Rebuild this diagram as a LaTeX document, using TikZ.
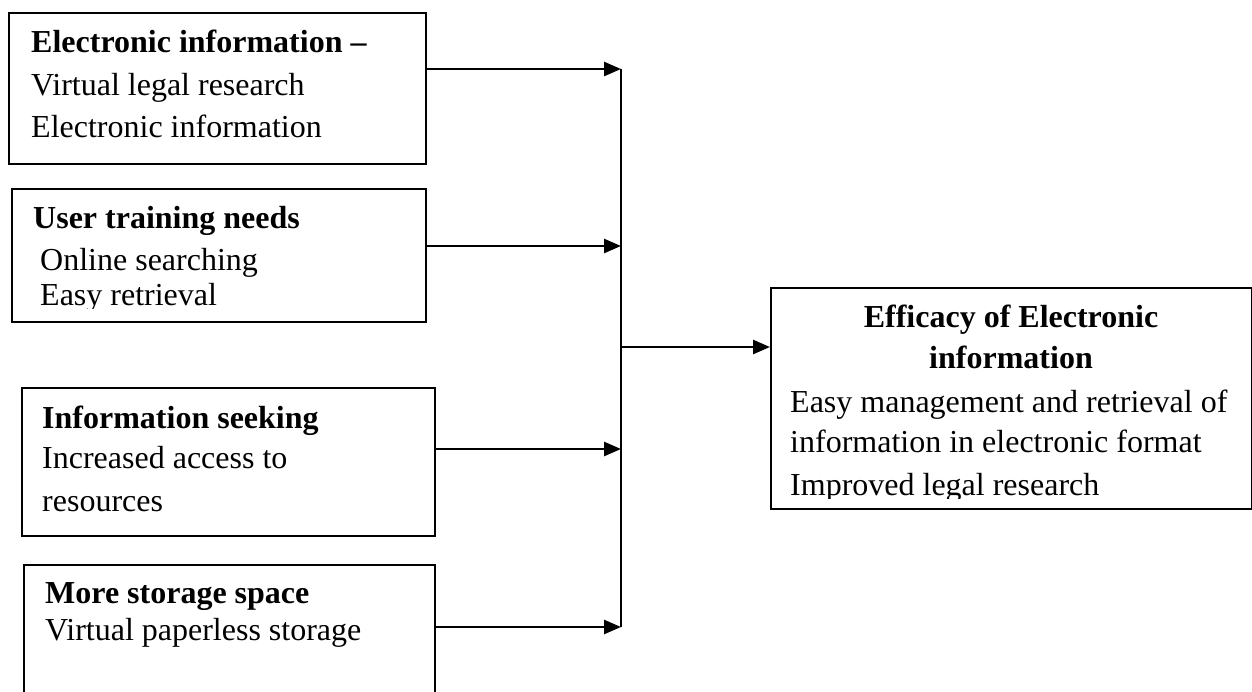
\documentclass[tikz,border=0pt]{standalone}
\usepackage{fontspec}
\setmainfont{Liberation Serif}
\usetikzlibrary{arrows.meta}
\tikzset{
  box/.style={draw, line width=2pt, anchor=north west, inner sep=0pt},
  txt/.style={anchor=base west, inner sep=0pt, font=\fontsize{32}{38}\selectfont},
  hd/.style={txt, font=\fontsize{32}{38}\selectfont\bfseries},
  ctr/.style={anchor=base, inner sep=0pt, font=\fontsize{32}{38}\selectfont\bfseries},
  bus/.style={line width=2.4pt},
  arr/.style={line width=2.6pt, -{Triangle[length=17pt,width=14pt]}}
}
\begin{document}
\begin{tikzpicture}[x=1pt,y=-1pt]
\useasboundingbox (0,0) rectangle (1252,691);
% boxes
\node[box, minimum width=417pt, minimum height=151pt] (b1) at (8,12) {};
\node[box, minimum width=414pt, minimum height=133pt] (b2) at (11,188) {};
\node[box, minimum width=413pt, minimum height=148pt] (b3) at (21,387) {};
\node[box, minimum width=411pt, minimum height=140pt] (b4) at (23,564) {};
\node[box, minimum width=481pt, minimum height=221pt] (rb) at (770,287) {};
% texts
\node[hd] (t11) at (31,52) {Electronic information –};
\node[txt] (t12) at (31,95) {Virtual legal research};
\node[txt] (t13) at (31,137) {Electronic information};
\node[hd] (t21) at (33,228) {User training needs};
\node[txt] (t22) at (40,270) {Online searching};
\begin{scope}
\clip (20,280) rectangle (400,308);
\node[txt] (t23) at (40,305) {Easy retrieval};
\end{scope}
\node[hd] (t31) at (42,428) {Information seeking};
\node[txt] (t32) at (42,468) {Increased access to};
\node[txt] (t33) at (42,511) {resources};
\node[hd] (t41) at (45,603) {More storage space};
\node[txt] (t42) at (45,640) {Virtual paperless storage};
\node[ctr] (r1) at (1011,327) {Efficacy of Electronic};
\node[ctr] (r2) at (1011,368) {information};
\node[txt] (r3) at (790,412) {Easy management and retrieval of};
\node[txt] (r4) at (790,452) {information in electronic format};
\begin{scope}
\clip (780,470) rectangle (1240,498);
\node[txt] (r5) at (790,495) {Improved legal research};
\end{scope}
% connectors
\coordinate (j1) at (621,69);
\coordinate (j2) at (621,246);
\coordinate (j3) at (621,449);
\coordinate (j4) at (621,627);
\coordinate (j5) at (621,347);
\draw[bus] (j1) -- (j4);
\draw[arr] (b1.east |- j1) -- (j1);
\draw[arr] (b2.east |- j2) -- (j2);
\draw[arr] (b3.east |- j3) -- (j3);
\draw[arr] (b4.east |- j4) -- (j4);
\draw[arr] (j5) -- (rb.west |- j5);
\end{tikzpicture}
\end{document}
